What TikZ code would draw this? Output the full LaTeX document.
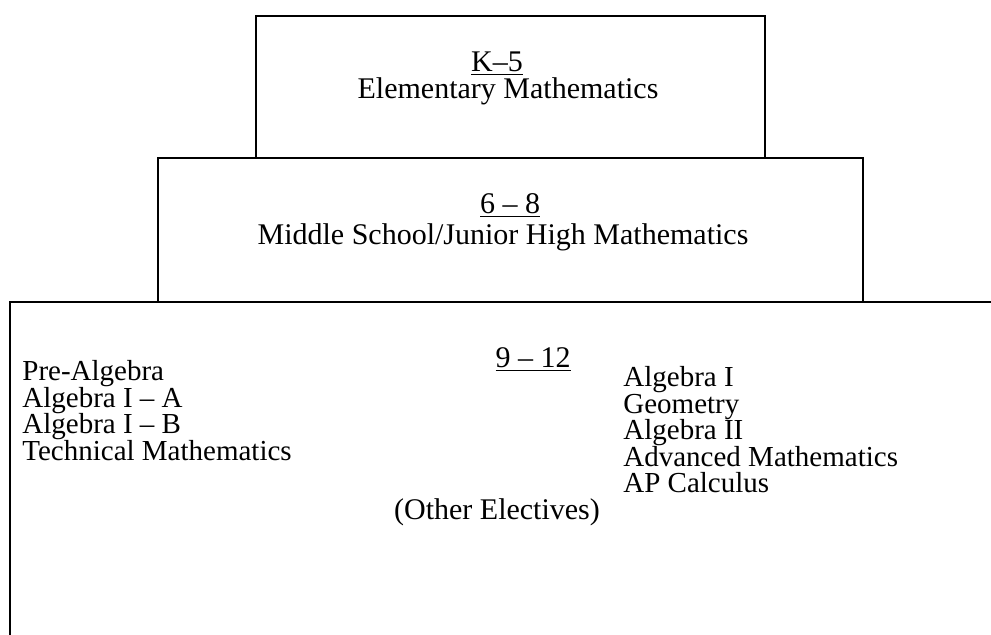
\documentclass[tikz,border=0pt]{standalone}
\usepackage{fontspec}
\setmainfont{Liberation Serif}
\begin{document}
\begin{tikzpicture}[x=0.5pt,y=-0.5pt,
  box/.style={draw=black, line width=1pt, rectangle, inner sep=0pt},
  lbl/.style={inner sep=0pt, font=\fontsize{15}{16}\selectfont},
  head/.style={lbl, anchor=base},
  item/.style={inner sep=0pt, font=\fontsize{14.5}{16}\selectfont, anchor=base west}]
\useasboundingbox (0,0) rectangle (991,634);
\clip (0,0) rectangle (991,634);
% boxes
\node[box, minimum width=254.5pt, minimum height=71pt] (topbox) at (510.5,87) {};
\node[box, minimum width=352.5pt, minimum height=72pt] (midbox) at (510.5,230) {};
\node[box, minimum width=500pt, minimum height=179pt] (lowbox) at (510,481) {};
% top box
\node[head] (k5) at (497,71) {\underline{K–5}};
\node[head] (elem) at (508,98) {Elementary Mathematics};
% middle box
\node[head] (g68) at (510,213) {\underline{6 – 8}};
\node[head] (mid) at (503,244) {Middle School/Junior High Mathematics};
% lower box
\node[head] (g912) at (533,367) {\underline{9 – 12}};
\node[item] (l1) at (22,380.75) {Pre-Algebra};
\node[item] (l2) at (22,407.25) {Algebra I – A};
\node[item] (l3) at (22,433.75) {Algebra I – B};
\node[item] (l4) at (22,460.25) {Technical Mathematics};
\node[item] (r1) at (623,386.5) {Algebra I};
\node[item] (r2) at (623,413) {Geometry};
\node[item] (r3) at (623,439.5) {Algebra II};
\node[item] (r4) at (623,466) {Advanced Mathematics};
\node[item] (r5) at (623,492.5) {AP Calculus};
\node[head] (elect) at (497,519) {(Other Electives)};
\end{tikzpicture}
\end{document}
